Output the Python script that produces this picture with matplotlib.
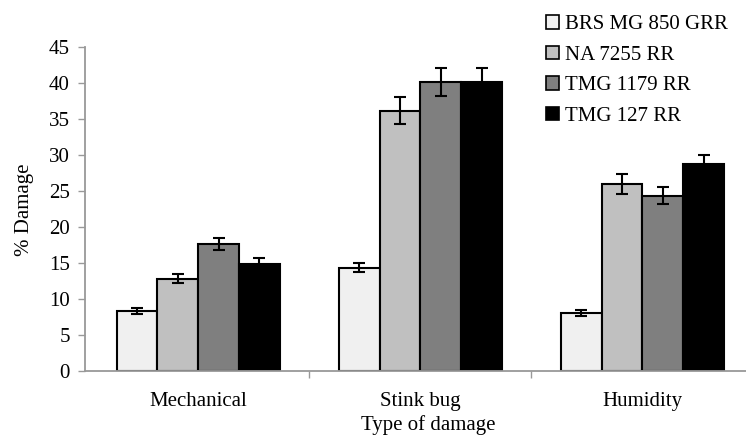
import matplotlib
matplotlib.use("Agg")
import matplotlib.pyplot as plt
import numpy as np

categories = ["Mechanical", "Stink bug", "Humidity"]
series = ["BRS MG 850 GRR", "NA 7255 RR", "TMG 1179 RR", "TMG 127 RR"]
values = {
    "BRS MG 850 GRR": [8.3, 14.3, 8.05],
    "NA 7255 RR": [12.8, 36.1, 25.9],
    "TMG 1179 RR": [17.55, 40.15, 24.3],
    "TMG 127 RR": [14.8, 40.15, 28.65],
}
errors = {
    "BRS MG 850 GRR": [0.4, 0.65, 0.4],
    "NA 7255 RR": [0.65, 1.85, 1.35],
    "TMG 1179 RR": [0.85, 1.95, 1.2],
    "TMG 127 RR": [0.8, 1.95, 1.3],
}
colors = ["#f0f0f0", "#c0c0c0", "#7f7f7f", "#000000"]
yticks = list(range(0, 46, 5))

plt.rcParams["font.family"] = ["Liberation Serif", "DejaVu Serif"]
FS = 15

fig = plt.figure(figsize=(7.46, 4.36), dpi=100)
ax = fig.add_axes([0.1139, 0.1498, 0.8861, 0.7431])

x = np.arange(len(categories))
w = 0.1835
for i, s in enumerate(series):
    pos = x + (i - 1.5) * w
    ax.bar(pos, values[s], width=w, color=colors[i], edgecolor="black",
           linewidth=1.5, label=s, zorder=2)
    ax.errorbar(pos, values[s], yerr=errors[s], fmt="none", ecolor="black",
                elinewidth=1.5, capsize=4, capthick=1.5, zorder=3)

ax.set_xlim(-0.51, 2.466)
ax.set_ylim(0, 45)
ax.set_yticks(yticks)
ax.set_yticklabels([str(t) for t in yticks], fontsize=FS)
ax.set_xticks(x)
ax.set_xticklabels(categories, fontsize=FS)
ax.tick_params(axis="x", length=0, pad=15)
ax.set_xticks([0.5, 1.5], minor=True)
ax.tick_params(axis="x", which="minor", length=5, color="#999999", width=1)
ax.tick_params(axis="y", length=5, color="#999999", width=1, pad=6)

for side in ["top", "right"]:
    ax.spines[side].set_visible(False)
for side in ["left", "bottom"]:
    ax.spines[side].set_color("#999999")
    ax.spines[side].set_linewidth(1.3)

fig.text(24 / 746, 1 - 210 / 436, "% Damage", fontsize=FS, rotation=90,
         ha="center", va="center")
fig.text(428 / 746, 1 - 425 / 436, "Type of damage", fontsize=FS,
         ha="center", va="center")

leg = fig.legend(loc="upper left", bbox_to_anchor=(538 / 746, 1 - 7 / 436),
                 frameon=False, fontsize=FS, handlelength=0.6,
                 handleheight=0.6, handletextpad=0.3, labelspacing=0.55,
                 borderaxespad=0)
for h in leg.legend_handles:
    h.set_linewidth(1.2)

fig.savefig("out.png", dpi=100)
